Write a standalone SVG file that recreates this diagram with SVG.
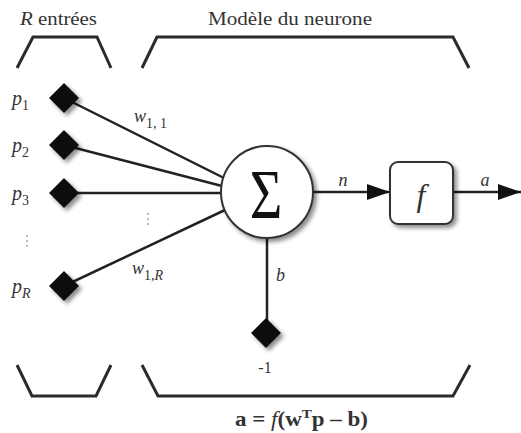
<svg xmlns="http://www.w3.org/2000/svg" width="521" height="433" viewBox="0 0 521 433">
<style>
text{font-family:'Liberation Serif','Times New Roman','DejaVu Serif',serif;fill:#333}
.i{font-style:italic}
.br{fill:none;stroke:#2b2b2b;stroke-width:3;stroke-linejoin:miter}
.ln{stroke:#222;stroke-width:2.5;fill:none}
.dm{fill:#111}
.dot{fill:#999}
</style>
<defs>
<filter id="sh" x="-30%" y="-30%" width="170%" height="170%">
<feGaussianBlur in="SourceAlpha" stdDeviation="2"/>
<feOffset dx="3" dy="3" result="b"/>
<feComponentTransfer><feFuncA type="linear" slope="0.45"/></feComponentTransfer>
<feMerge><feMergeNode/><feMergeNode in="SourceGraphic"/></feMerge>
</filter>
<marker id="ar" markerUnits="userSpaceOnUse" markerWidth="24" markerHeight="16" refX="23" refY="8" orient="auto">
<path d="M0,0 L23,8 L0,16 Z" fill="#111"/>
</marker>
</defs>

<g id="labels-top">
<text x="20" y="25" font-size="18" textLength="77" lengthAdjust="spacingAndGlyphs"><tspan class="i">R</tspan> entrées</text>
<text x="208" y="25" font-size="18" textLength="164" lengthAdjust="spacingAndGlyphs">Modèle du neurone</text>
</g>

<g id="brackets">
<path class="br" d="M17,68 L33,37 L97,37 L111,68"/>
<path class="br" d="M142,68 L157,37 L453,37 L469,68"/>
<path class="br" d="M17,365 L32,396 L96,396 L111,365"/>
<path class="br" d="M142,365 L158,396 L453,396 L470,365"/>
</g>

<g id="connectors">
<line class="ln" x1="64" y1="98" x2="224" y2="178"/>
<line class="ln" x1="64" y1="145" x2="222" y2="186"/>
<line class="ln" x1="64" y1="193" x2="221" y2="193"/>
<line class="ln" x1="64" y1="286" x2="225" y2="210"/>
<line class="ln" x1="267" y1="238" x2="267" y2="332" stroke-width="2"/>
<line class="ln" x1="313" y1="192" x2="390" y2="192" marker-end="url(#ar)"/>
<line class="ln" x1="453" y1="192" x2="521" y2="192" marker-end="url(#ar)"/>
</g>

<g id="p1"><path class="dm" filter="url(#sh)" d="M64,83 L79,98 L64,113 L49,98 Z"/>
<text class="i" x="12" y="105" font-size="20">p<tspan font-size="14" font-style="normal" dy="5">1</tspan></text></g>
<g id="p2"><path class="dm" filter="url(#sh)" d="M64,130 L79,145 L64,160 L49,145 Z"/>
<text class="i" x="12" y="152" font-size="20">p<tspan font-size="14" font-style="normal" dy="5">2</tspan></text></g>
<g id="p3"><path class="dm" filter="url(#sh)" d="M64,178 L79,193 L64,208 L49,193 Z"/>
<text class="i" x="12" y="200" font-size="20">p<tspan font-size="14" font-style="normal" dy="5">3</tspan></text></g>
<g id="pR"><path class="dm" filter="url(#sh)" d="M64,271 L79,286 L64,301 L49,286 Z"/>
<text class="i" x="12" y="293" font-size="20">p<tspan font-size="14" dy="5">R</tspan></text></g>

<g id="dots">
<circle class="dot" cx="27" cy="236" r="0.9"/><circle class="dot" cx="27" cy="241" r="0.9"/><circle class="dot" cx="27" cy="246" r="0.9"/>
<circle class="dot" cx="148" cy="214" r="0.9"/><circle class="dot" cx="148" cy="219" r="0.9"/><circle class="dot" cx="148" cy="224" r="0.9"/>
</g>

<g id="weights">
<text class="i" x="134" y="122" font-size="18">w<tspan font-size="14" font-style="normal" dy="6">1, 1</tspan></text>
<text class="i" x="132" y="274" font-size="18">w<tspan font-size="14" font-style="normal" dy="6">1,</tspan><tspan font-size="14">R</tspan></text>
</g>

<g id="sum">
<circle cx="267" cy="192" r="46" fill="#fff" stroke="#333" stroke-width="2" filter="url(#sh)"/>
<text x="0" y="0" font-size="70" text-anchor="middle" style="fill:#111" transform="translate(266,218) scale(0.8,1)">Σ</text>
</g>

<g id="func">
<rect x="390" y="162" width="63" height="62" rx="8" fill="#fff" stroke="#333" stroke-width="2" filter="url(#sh)"/>
<text class="i" x="421" y="206" font-size="32" text-anchor="middle">f</text>
</g>

<g id="bias">
<path class="dm" filter="url(#sh)" d="M266,318 L281,333 L266,348 L251,333 Z"/>
<text x="265" y="373" font-size="16" text-anchor="middle">-1</text>
<text class="i" x="276" y="281" font-size="18">b</text>
</g>

<g id="signals">
<text class="i" x="343" y="186" font-size="18" text-anchor="middle">n</text>
<text class="i" x="485" y="186" font-size="18" text-anchor="middle">a</text>
</g>

<g id="formula">
<text x="235" y="426" font-size="20" font-weight="bold" textLength="133" lengthAdjust="spacingAndGlyphs">a = <tspan font-style="italic" font-weight="normal">f</tspan>(w<tspan font-size="13" dy="-8">T</tspan><tspan dy="8">p – b)</tspan></text>
</g>
</svg>
